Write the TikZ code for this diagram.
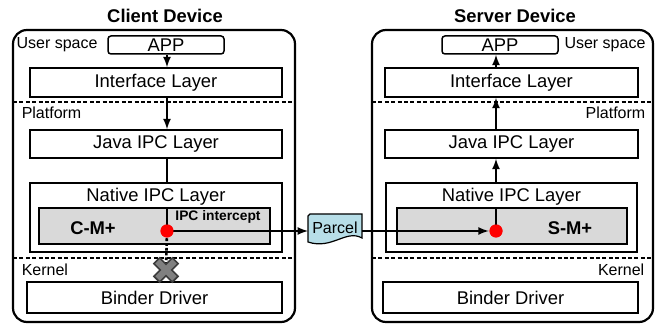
\documentclass[tikz,border=0pt]{standalone}
\usepackage{fontspec}
\setmainfont{Liberation Sans}
\usetikzlibrary{positioning}
\definecolor{mgray}{RGB}{217,217,217}
\definecolor{parcelblue}{RGB}{183,222,232}
\definecolor{xgray}{RGB}{128,128,128}
\definecolor{xedge}{RGB}{60,60,60}
\begin{document}
\begin{tikzpicture}[x=0.5pt, y=-0.5pt, line width=0.75pt,
    device/.style={draw, line width=1.1pt, rounded corners=7pt, inner sep=0pt},
    layer/.style={draw, inner sep=0pt, font=\fontsize{9.2}{11}\selectfont},
    mplus/.style={draw, fill=mgray, inner sep=0pt},
    title/.style={inner sep=0pt, font=\fontsize{9.2}{11}\selectfont\bfseries},
    lbl/.style={inner sep=0pt, font=\fontsize{8}{9.5}\selectfont},
    sep/.style={line width=0.7pt, dash pattern=on 2pt off 1.2pt},
    dot/.style={circle, fill=red, inner sep=0pt, minimum size=6.5pt}]

  \useasboundingbox (0,0) rectangle (660,325);

  % client side
  \node[title] (ctitle) at (165,16) {Client Device};
  \node[device, minimum width=141pt, minimum height=146pt] (cdev) at (154,176) {};
  \node[layer, rounded corners=1.5pt, minimum width=58pt, minimum height=9pt] (capp) at (166,45) {APP};
  \node[lbl, left=4.5pt of capp] (cuser) {User space};
  \node[layer, minimum width=126pt, minimum height=14.5pt] (cif) at (156,82.5) {Interface Layer};
  \node[layer, minimum width=126pt, minimum height=14pt] (cjava) at (156,144) {Java IPC Layer};
  \node[layer, minimum width=126pt, minimum height=34.5pt] (cnat) at (156,217.5) {};
  \node[layer, draw=none, anchor=base] (cnattxt) at (156,201.5) {Native IPC Layer};
  \node[mplus, minimum width=115.5pt, minimum height=18pt] (ccm) at (154.5,226) {};
  \node[title] (ccmtxt) at (93,228) {C-M+};
  \node[title, font=\fontsize{6.9}{8}\selectfont\bfseries] (cicpt) at (218,217) {IPC intercept};
  \node[layer, minimum width=127.5pt, minimum height=15.5pt] (cbind) at (154.5,297.5) {Binder Driver};
  \node[lbl, anchor=west] (cplat) at (21,113) {Platform};
  \node[lbl, anchor=west] (cker) at (21,270) {Kernel};
  \draw[sep] (13,102) -- (295,102);
  \draw[sep] (13,258) -- (295,258);
  \node[dot] (cdot) at (167,231) {};
  \coordinate (cx) at (166,270);

  % server side
  \node[title] (stitle) at (515,16) {Server Device};
  \node[device, minimum width=140.5pt, minimum height=146pt] (sdev) at (512.5,176) {};
  \node[layer, rounded corners=1.5pt, minimum width=58pt, minimum height=9pt] (sapp) at (500,45) {APP};
  \node[lbl, right=2.5pt of sapp] (suser) {User space};
  \node[layer, minimum width=126.5pt, minimum height=14.5pt] (sif) at (511.5,82.5) {Interface Layer};
  \node[layer, minimum width=126.5pt, minimum height=14pt] (sjava) at (511.5,144) {Java IPC Layer};
  \node[layer, minimum width=125.5pt, minimum height=34.5pt] (snat) at (511.5,217.5) {};
  \node[layer, draw=none, anchor=base] (snattxt) at (511.5,201.5) {Native IPC Layer};
  \node[mplus, minimum width=115pt, minimum height=18pt] (ssm) at (512,226) {};
  \node[title] (ssmtxt) at (570,228) {S-M+};
  \node[layer, minimum width=127.5pt, minimum height=15.5pt] (sbind) at (510.5,297.5) {Binder Driver};
  \node[lbl, anchor=east] (splat) at (646,113) {Platform};
  \node[lbl, anchor=east] (sker) at (645,270) {Kernel};
  \draw[sep] (372,102) -- (653,102);
  \draw[sep] (372,258) -- (653,258);
  \node[dot] (sdot) at (496,231) {};

  % parcel
  \draw[fill=parcelblue, line width=0.6pt] (310,214) -- (362,214) -- (362,238)
    .. controls (346,229) and (332,250) .. (308,242) -- (308,216) -- cycle;
  \node[lbl] (parcel) at (335,227.5) {Parcel};

  % flows
  \path[line width=0.8pt]
    (cdot |- capp.south) edge[-latex] (cdot |- cif.north)
    (cdot |- cif.south) edge[-latex] (cdot |- cjava.north)
    (cdot |- cjava.south) edge (cdot |- cnat.north)
    (cdot |- ccm.north) edge (cdot.center)
    (cdot.center) edge[-latex] (cdot -| 308,0)
    (362,231) edge[-latex] (sdot)
    (sdot.center) edge (sdot |- ssm.north)
    (sdot |- snat.north) edge[-latex] (sdot |- sjava.south)
    (sdot |- sjava.north) edge[-latex] (sdot |- sif.south)
    (sdot |- sif.north) edge[-latex] (sdot |- sapp.south);
  \draw[line width=1.3pt, dash pattern=on 1.4pt off 1pt] (cdot) -- (cx);

  % blocked
  \draw[fill=xgray, draw=xedge, line width=0.8pt, shift={(cx)}, rotate=45]
    (4,13) -- (4,4) -- (13,4) -- (13,-4) -- (4,-4) -- (4,-13) -- (-4,-13)
    -- (-4,-4) -- (-13,-4) -- (-13,4) -- (-4,4) -- (-4,13) -- cycle;

  \node[dot] at (cdot) {};
  \node[dot] at (sdot) {};
\end{tikzpicture}
\end{document}
